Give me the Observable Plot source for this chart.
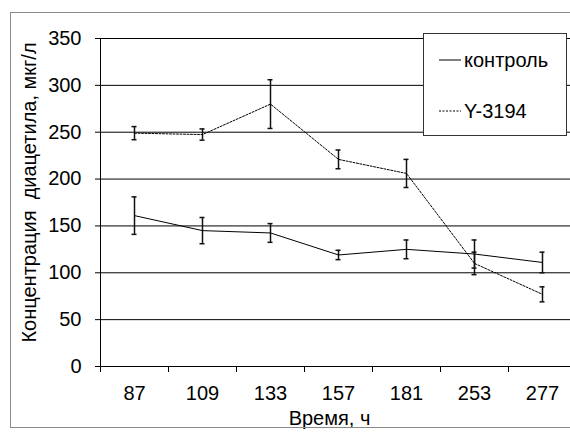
<!DOCTYPE html>
<html><head><meta charset="utf-8">
<script src="https://cdn.jsdelivr.net/npm/d3@7"></script>
<script src="https://cdn.jsdelivr.net/npm/@observablehq/plot@0.6"></script>
<style>
body{margin:0;overflow:hidden;background:#fff;font-family:"Liberation Sans",Arial,sans-serif;}
#wrap{position:relative;width:570px;height:433px;overflow:hidden;}
#chart{position:absolute;left:0;top:0;}
#border{position:absolute;left:10px;top:12px;width:570px;height:414px;border:1px solid #8a8a8a;}
#legend{position:absolute;left:423px;top:33px;width:142px;height:101px;border:1px solid #333;background:#fff;font-size:20px;color:#000;}
.item{position:absolute;left:15px;height:22px;display:flex;align-items:center;}
.item svg{display:block;margin-right:3px;}
</style></head>
<body><div id="wrap"><div id="chart"></div><div id="border"></div><div id="legend"></div></div>
<script>
const categories = ["87", "109", "133", "157", "181", "253", "277"];
const seriesNames = ["контроль", "Y-3194"];
const control = [161, 145, 142.5, 119, 125, 120, 111];
const controlErr = [20, 14, 10, 5, 10, 15, 11];
const y3194 = [249, 247.5, 280, 221, 206, 110, 77];
const y3194Err = [7, 6, 26, 10, 15, 12, 8];
const yTicks = [0, 50, 100, 150, 200, 250, 300, 350];
const xTitle = "Время, ч";
const yTitle = "Концентрация\u00a0 диацетила, мкг/л";

const data = categories.map((t, i) => ({t, v: control[i], e: controlErr[i], s: seriesNames[0]}))
  .concat(categories.map((t, i) => ({t, v: y3194[i], e: y3194Err[i], s: seriesNames[1]})));
const dash = {"контроль": null, "Y-3194": "2,1.5"};

const chart = Plot.plot({
  width: 570, height: 433,
  marginLeft: 100, marginTop: 38, marginBottom: 67, marginRight: 0,
  style: {fontFamily: "'Liberation Sans', Arial, sans-serif", fontSize: "20px", color: "#000", background: "transparent"},
  x: {type: "band", domain: categories, range: [100, 576], padding: 0, label: null},
  y: {domain: [0, 350], range: [366, 38], label: null},
  marks: [
    Plot.ruleY(yTicks.filter(d => d > 0), {stroke: "#000", strokeWidth: 1}),
    Plot.ruleY([0], {stroke: "#000", strokeWidth: 1}),
    Plot.frame({anchor: "left", stroke: "#000", strokeWidth: 1}),
    Plot.axisY({ticks: yTicks, tickSize: 5, tickPadding: 14, label: null, stroke: "#000"}),
    Plot.axisX({tickSize: 6, tickFormat: () => "", dx: -34, label: null, stroke: "#000"}),
    Plot.axisX({tickSize: 0, tickPadding: 19, label: null}),
    Plot.text([yTitle], {frameAnchor: "left", textAnchor: "middle", lineAnchor: "middle", rotate: -90, dx: -71, dy: -10, fontSize: 20}),
    Plot.text([xTitle], {frameAnchor: "bottom", lineAnchor: "middle", dx: -6, dy: 52, fontSize: 20}),
    Plot.ruleX(data, {x: "t", y1: d => d.v - d.e, y2: d => d.v + d.e, stroke: "#111", strokeWidth: 1.5}),
    Plot.tickY(data, {x: "t", y: d => d.v + d.e, insetLeft: 31.5, insetRight: 31.5, stroke: "#111", strokeWidth: 1.5}),
    Plot.tickY(data, {x: "t", y: d => d.v - d.e, insetLeft: 31.5, insetRight: 31.5, stroke: "#111", strokeWidth: 1.5}),
    ...seriesNames.map(s => Plot.line(data.filter(d => d.s === s), {x: "t", y: "v", stroke: "#000", strokeWidth: 1, strokeDasharray: dash[s]}))
  ]
});
document.getElementById("chart").appendChild(chart);

const legend = document.getElementById("legend");
seriesNames.forEach((s, i) => {
  const item = document.createElement("div");
  item.className = "item";
  item.style.top = (i === 0 ? 15 : 66) + "px";
  item.innerHTML = `<svg width="22" height="4"><line x1="0" x2="22" y1="2" y2="2" stroke="#000" stroke-width="1" ${dash[s] ? `stroke-dasharray="${dash[s]}"` : ""}/></svg><span>${s}</span>`;
  legend.appendChild(item);
});
</script>
</body></html>
